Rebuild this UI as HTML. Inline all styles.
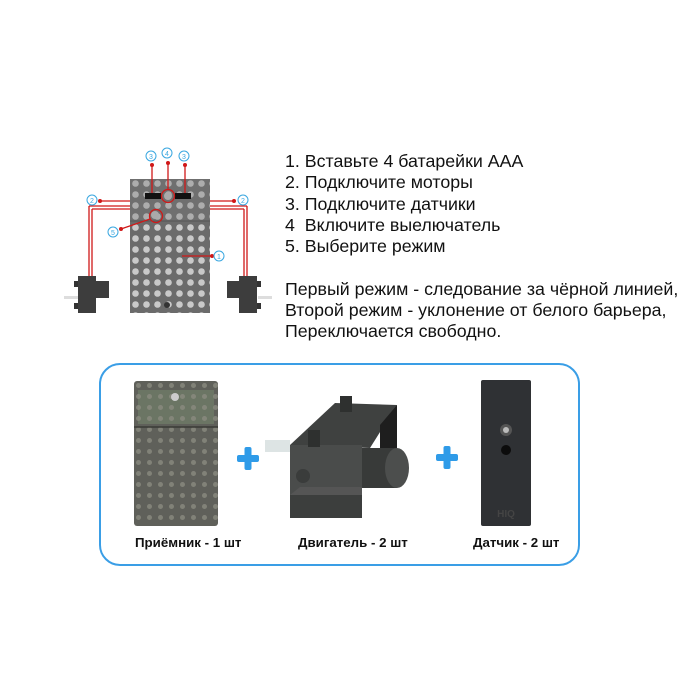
<!DOCTYPE html>
<html><head><meta charset="utf-8"><style>
html,body{margin:0;padding:0;background:#fff;}
body{width:700px;height:700px;position:relative;overflow:hidden;font-family:"Liberation Sans",Arial,sans-serif;}
.t{position:absolute;left:285px;font-size:17.8px;color:#111;white-space:nowrap;line-height:21px;}
.lbl{position:absolute;font-weight:bold;font-size:13.3px;color:#111;white-space:nowrap;}
</style></head><body>
<svg width="700" height="700" style="position:absolute;left:0;top:0">
<defs>
<pattern id="holes" x="130" y="178" width="11" height="11" patternUnits="userSpaceOnUse">
<circle cx="5.5" cy="5.5" r="3.3" fill="#c9c9c9"/>
</pattern>
<pattern id="holes2" x="133" y="380" width="11" height="11" patternUnits="userSpaceOnUse">
<circle cx="5.5" cy="5.5" r="2.5" fill="#8a8a80"/>
</pattern>
</defs>
<rect x="130" y="179" width="80" height="134" fill="#6b6b6b"/>
<rect x="130" y="179" width="80" height="134" fill="url(#holes)"/>
<rect x="130" y="179" width="80" height="42" fill="#777" opacity="0.35"/>
<line x1="130" y1="221" x2="210" y2="221" stroke="#555" stroke-width="1"/>
<rect x="145" y="193" width="16" height="6" fill="#111"/>
<rect x="175" y="193" width="16" height="6" fill="#111"/>
<circle cx="168" cy="196" r="4" fill="#aaa"/>
<circle cx="155" cy="215" r="4" fill="#aaa"/>
<circle cx="167" cy="305" r="3" fill="#333"/>
<g stroke="#d01818" stroke-width="1.3" fill="none">
<circle cx="168" cy="196" r="6.5"/>
<circle cx="156" cy="216" r="6.5"/>
<line x1="152" y1="165" x2="152" y2="193"/>
<line x1="168" y1="163" x2="168" y2="189"/>
<line x1="185" y1="165" x2="185" y2="193"/>
<line x1="100" y1="201" x2="130" y2="201"/>
<line x1="210" y1="201" x2="234" y2="201"/>
<line x1="89" y1="206" x2="130" y2="206"/>
<line x1="89" y1="206" x2="89" y2="278"/>
<line x1="92" y1="209" x2="130" y2="209"/>
<line x1="92" y1="209" x2="92" y2="278"/>
<line x1="210" y1="206" x2="247" y2="206"/>
<line x1="247" y1="206" x2="247" y2="278"/>
<line x1="210" y1="209" x2="244" y2="209"/>
<line x1="244" y1="209" x2="244" y2="278"/>
<line x1="121" y1="229" x2="150" y2="219"/>
<line x1="182" y1="256" x2="212" y2="256"/>
</g>
<g fill="#d01818">
<circle cx="152" cy="165" r="2"/><circle cx="168" cy="163" r="2"/><circle cx="185" cy="165" r="2"/>
<circle cx="100" cy="201" r="2"/><circle cx="234" cy="201" r="2"/>
<circle cx="121" cy="229" r="2"/><circle cx="212" cy="256" r="2"/>
</g>
<g fill="none" stroke="#3aa7e0" stroke-width="1">
<circle cx="151" cy="156" r="5"/><circle cx="167" cy="153" r="5"/><circle cx="184" cy="156" r="5"/>
<circle cx="92" cy="200" r="5"/><circle cx="243" cy="200" r="5"/>
<circle cx="113" cy="232" r="5"/><circle cx="219" cy="256" r="5"/>
</g>
<g font-family="Liberation Sans" font-size="7" fill="#3aa7e0" text-anchor="middle">
<text x="151" y="159">3</text><text x="167" y="156">4</text><text x="184" y="159">3</text>
<text x="92" y="203">2</text><text x="243" y="203">2</text>
<text x="113" y="235">5</text><text x="219" y="259">1</text>
</g>
<rect x="64" y="296" width="14" height="3" fill="#ddd"/>
<rect x="78" y="276" width="18" height="37" fill="#3d3d3d"/>
<rect x="96" y="281" width="13" height="17" fill="#3d3d3d"/>
<rect x="74" y="281" width="4" height="6" fill="#333"/><rect x="74" y="303" width="4" height="6" fill="#333"/>
<rect x="258" y="296" width="14" height="3" fill="#ddd"/>
<rect x="239" y="276" width="18" height="37" fill="#3d3d3d"/>
<rect x="227" y="281" width="12" height="17" fill="#3d3d3d"/>
<rect x="257" y="281" width="4" height="6" fill="#333"/><rect x="257" y="303" width="4" height="6" fill="#333"/>
<rect x="100" y="364" width="479" height="201" rx="20" fill="#fff" stroke="#3a9ee6" stroke-width="2"/>
<rect x="134" y="381" width="84" height="145" rx="3" fill="#5f605a"/>
<rect x="138" y="390" width="76" height="34" fill="#6b7564"/>
<rect x="134" y="381" width="84" height="145" fill="url(#holes2)" opacity="0.8"/>
<circle cx="175" cy="397" r="4" fill="#ccc"/>
<line x1="134" y1="427" x2="218" y2="427" stroke="#3a3a36" stroke-width="1.5"/>
<g fill="#2f9be8"><rect x="237" y="455" width="22" height="7" rx="2"/><rect x="244.5" y="447" width="7" height="23" rx="2"/>
<rect x="436" y="454" width="22" height="7" rx="2"/><rect x="443.5" y="446" width="7" height="23" rx="2"/></g>
<rect x="265" y="440" width="25" height="12" fill="#dde4e4"/>
<polygon points="290,445 335,403 397,405 370,448" fill="#3f4140"/>
<polygon points="380,425 397,405 397,450 380,455" fill="#1e1e1e"/>
<rect x="290" y="445" width="72" height="50" fill="#4a4c4b"/>
<rect x="290" y="495" width="72" height="23" fill="#3c3e3d"/>
<polygon points="290,495 300,487 362,487 362,495" fill="#555"/>
<rect x="362" y="448" width="35" height="40" fill="#383a39"/>
<ellipse cx="397" cy="468" rx="12" ry="20" fill="#4c4e4d"/>
<rect x="340" y="396" width="12" height="16" fill="#2e302f"/>
<rect x="308" y="430" width="12" height="17" fill="#2e302f"/>
<circle cx="303" cy="476" r="7" fill="#3a3c3b"/>
<rect x="481" y="380" width="50" height="146" rx="2" fill="#2f3134"/>
<circle cx="506" cy="430" r="6" fill="#555"/><circle cx="506" cy="430" r="3" fill="#bbb"/>
<circle cx="506" cy="450" r="5" fill="#0c0c0c"/>
<text x="506" y="517" font-family="Liberation Sans" font-size="10" font-weight="bold" fill="#444" text-anchor="middle">HIQ</text>
</svg>
<div class="t" style="top:151px">1. Вставьте 4 батарейки AAA</div>
<div class="t" style="top:172px">2. Подключите моторы</div>
<div class="t" style="top:194px">3. Подключите датчики</div>
<div class="t" style="top:215px">4&nbsp; Включите выелючатель</div>
<div class="t" style="top:236px">5. Выберите режим</div>
<div class="t" style="top:279px">Первый режим - следование за чёрной линией,</div>
<div class="t" style="top:300px">Второй режим - уклонение от белого барьера,</div>
<div class="t" style="top:321px">Переключается свободно.</div>
<div class="lbl" style="left:135px;top:535px">Приёмник - 1 шт</div>
<div class="lbl" style="left:298px;top:535px">Двигатель - 2 шт</div>
<div class="lbl" style="left:473px;top:535px">Датчик - 2 шт</div>
</body></html>
